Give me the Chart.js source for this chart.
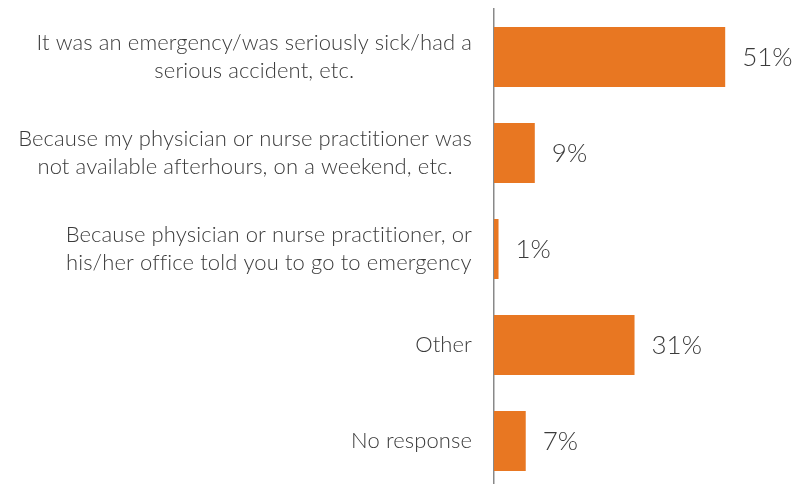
<!DOCTYPE html>
<html>
<head>
<meta charset="utf-8">
<script src="https://cdn.jsdelivr.net/npm/chart.js@4.4.1/dist/chart.umd.min.js"></script>
<style>
  html, body { margin: 0; padding: 0; background: #ffffff; overflow: hidden; width: 803px; height: 484px; }
  canvas { display: block; }
</style>
</head>
<body>
<canvas id="chart" width="803" height="490"></canvas>
<script>
// Reasons given for going to emergency (share of respondents, %)
const categories = [
  ["It was an emergency/was seriously sick/had a", "serious accident, etc."],
  ["Because my physician or nurse practitioner was", "not available afterhours, on a weekend, etc."],
  ["Because physician or nurse practitioner, or", "his/her office told you to go to emergency"],
  ["Other"],
  ["No response"]
];
const percentages = [51, 9, 1, 31, 7];
const valueLabels = ["51%", "9%", "1%", "31%", "7%"];

const TEXT_COLOR = "#3b3b3b";
const BAR_COLOR = "#E87722";
const AXIS_COLOR = "#898989";
const FONT_FAMILY = "Lato, 'Open Sans', sans-serif";

// Category labels: block right-aligned to the axis, lines centred within the block
const categoryLabels = {
  id: "categoryLabels",
  afterDraw(chart) {
    const { ctx } = chart;
    const yScale = chart.scales.y;
    const lineHeight = 28;
    ctx.save();
    ctx.font = "300 22px " + FONT_FAMILY;
    ctx.letterSpacing = "0.1px";
    ctx.fillStyle = TEXT_COLOR;
    ctx.textBaseline = "middle";
    ctx.textAlign = "center";
    categories.forEach((lines, i) => {
      const y = yScale.getPixelForValue(i);
      const widest = Math.max(...lines.map(l => ctx.measureText(l).width));
      const cx = yScale.right - 22 - widest / 2;
      lines.forEach((line, j) => {
        ctx.fillText(line, cx, y + (j - (lines.length - 1) / 2) * lineHeight);
      });
    });
    ctx.restore();
  }
};

// Percentage labels just past the end of each bar
const valueLabelPlugin = {
  id: "valueLabelPlugin",
  afterDatasetsDraw(chart) {
    const { ctx } = chart;
    const meta = chart.getDatasetMeta(0);
    ctx.save();
    ctx.font = "300 26px " + FONT_FAMILY;
    ctx.fillStyle = TEXT_COLOR;
    ctx.textBaseline = "middle";
    ctx.textAlign = "left";
    meta.data.forEach((bar, i) => {
      ctx.fillText(valueLabels[i], bar.x + 17, bar.y + 1);
    });
    ctx.restore();
  }
};

new Chart(document.getElementById("chart"), {
  type: "bar",
  data: {
    labels: categories,
    datasets: [{
      data: percentages,
      backgroundColor: BAR_COLOR,
      borderWidth: 0,
      categoryPercentage: 1.0,
      barPercentage: 0.625
    }]
  },
  options: {
    indexAxis: "y",
    responsive: false,
    animation: false,
    devicePixelRatio: 1,
    layout: { padding: { top: 9, right: 37, bottom: 1, left: 0 } },
    plugins: {
      legend: { display: false },
      tooltip: { enabled: false }
    },
    scales: {
      x: {
        display: false,
        min: 0,
        max: 60
      },
      y: {
        position: "left",
        grid: { display: false },
        border: { display: true, color: AXIS_COLOR, width: 1.5 },
        ticks: { display: false },
        afterFit(scale) { scale.width = 494; }
      }
    }
  },
  plugins: [categoryLabels, valueLabelPlugin]
});
</script>
</body>
</html>
